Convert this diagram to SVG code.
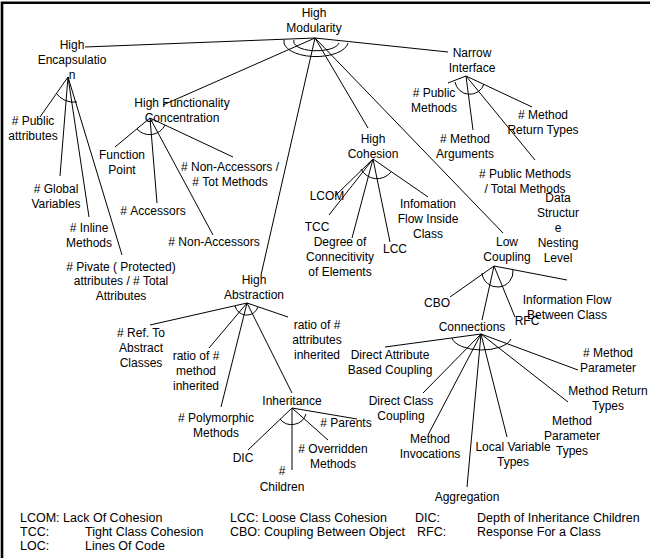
<svg xmlns="http://www.w3.org/2000/svg" width="650" height="558" viewBox="0 0 650 558">
<style>
text{font-family:"Liberation Sans",Arial,sans-serif;font-size:12px;fill:#000}
.n text{text-anchor:middle}
.c line,.c path{stroke:#000;stroke-width:1;fill:none}
.lg text{text-anchor:start;font-size:12.5px}
</style>
<rect width="650" height="558" fill="#fff"/>
<path d="M2 558 V2.7 H650" stroke="#000" stroke-width="2.6" fill="none"/>
<g id="connectors" class="c">
<line x1="315" y1="38" x2="85" y2="47"/>
<line x1="315" y1="38" x2="163" y2="105"/>
<line x1="315" y1="38" x2="261" y2="275"/>
<line x1="315" y1="38" x2="368" y2="128"/>
<line x1="315" y1="38" x2="503" y2="233"/>
<line x1="315" y1="38" x2="448" y2="52"/>
<path d="M284 40 A32 15 0 0 0 348 43"/>
<path d="M294 40 A22 9 0 0 0 339 43"/>
<line x1="68" y1="77" x2="40" y2="117"/>
<line x1="68" y1="77" x2="60" y2="176"/>
<line x1="68" y1="77" x2="89" y2="217"/>
<line x1="68" y1="77" x2="122" y2="255"/>
<path d="M56 93 A22 22 0 0 0 77 102"/>
<line x1="150" y1="118" x2="115" y2="147"/>
<line x1="150" y1="118" x2="157" y2="203"/>
<line x1="150" y1="118" x2="213" y2="235"/>
<line x1="150" y1="118" x2="233" y2="157"/>
<path d="M137 129 A17 17 0 0 0 165 125"/>
<line x1="373" y1="159" x2="335" y2="196"/>
<line x1="373" y1="159" x2="329" y2="215"/>
<line x1="373" y1="159" x2="352" y2="238"/>
<line x1="373" y1="159" x2="390" y2="242"/>
<line x1="373" y1="159" x2="428" y2="197"/>
<path d="M361 169 A18 18 0 0 0 391 172"/>
<line x1="466" y1="76" x2="448" y2="83"/>
<line x1="466" y1="76" x2="473" y2="130"/>
<line x1="466" y1="76" x2="535" y2="160"/>
<line x1="466" y1="76" x2="532" y2="107"/>
<path d="M455 82 A15 15 0 0 0 484 84"/>
<line x1="494" y1="266" x2="450" y2="297"/>
<line x1="494" y1="266" x2="482" y2="320"/>
<line x1="494" y1="266" x2="515" y2="317"/>
<line x1="494" y1="266" x2="567" y2="280"/>
<path d="M482 273 A15 15 0 0 0 513 270"/>
<line x1="247" y1="303" x2="150" y2="325"/>
<line x1="247" y1="303" x2="209" y2="348"/>
<line x1="247" y1="303" x2="221" y2="407"/>
<line x1="247" y1="303" x2="292" y2="393"/>
<line x1="247" y1="303" x2="288" y2="317"/>
<path d="M235 306 A12 12 0 0 0 258 307"/>
<line x1="292" y1="408" x2="248" y2="450"/>
<line x1="292" y1="408" x2="292" y2="470"/>
<line x1="292" y1="408" x2="328" y2="440"/>
<line x1="292" y1="408" x2="357" y2="419"/>
<path d="M280 419 A15 15 0 0 0 306 414"/>
<line x1="481" y1="334" x2="385" y2="347"/>
<line x1="481" y1="334" x2="423" y2="393"/>
<line x1="481" y1="334" x2="428" y2="435"/>
<line x1="481" y1="334" x2="467" y2="487"/>
<line x1="481" y1="334" x2="507" y2="437"/>
<line x1="481" y1="334" x2="568" y2="402"/>
<line x1="481" y1="334" x2="578" y2="370"/>
<path d="M452 338 A30 14 0 0 0 511 339"/>
</g>
<g class="n">
<g id="high-modularity"><text x="314" y="17">High</text><text x="314" y="32">Modularity</text></g>
<g id="high-encapsulation"><text x="72" y="49">High</text><text x="72" y="64">Encapsulatio</text><text x="72" y="79">n</text></g>
<g id="public-attributes"><text x="33" y="125">#&#160;Public</text><text x="33" y="140">attributes</text></g>
<g id="global-variables"><text x="56" y="193">#&#160;Global</text><text x="56" y="208">Variables</text></g>
<g id="inline-methods"><text x="89" y="232">#&#160;Inline</text><text x="89" y="247">Methods</text></g>
<g id="private-attributes"><text x="121" y="271">#&#160;Pivate ( Protected)</text><text x="121" y="285">attributes / # Total</text><text x="121" y="300">Attributes</text></g>
<g id="high-functionality"><text x="182" y="107">High Functionality</text><text x="182" y="122">Concentration</text></g>
<g id="function-point"><text x="122" y="159">Function</text><text x="122" y="174">Point</text></g>
<g id="accessors"><text x="153" y="215">#&#160;Accessors</text></g>
<g id="non-accessors"><text x="214" y="246">#&#160;Non-Accessors</text></g>
<g id="non-accessors-ratio"><text x="230" y="171">#&#160;Non-Accessors /</text><text x="230" y="186">#&#160;Tot Methods</text></g>
<g id="high-cohesion"><text x="373" y="143">High</text><text x="373" y="158">Cohesion</text></g>
<g id="lcom"><text x="327" y="200">LCOM</text></g>
<g id="tcc"><text x="317" y="231">TCC</text></g>
<g id="degree-connectivity"><text x="340" y="246">Degree of</text><text x="340" y="261">Connecitivity</text><text x="340" y="276">of Elements</text></g>
<g id="lcc"><text x="395" y="253">LCC</text></g>
<g id="info-flow-inside"><text x="428" y="208">Infomation</text><text x="428" y="223">Flow Inside</text><text x="428" y="238">Class</text></g>
<g id="narrow-interface"><text x="472" y="57">Narrow</text><text x="472" y="72">Interface</text></g>
<g id="public-methods"><text x="434" y="97">#&#160;Public</text><text x="434" y="112">Methods</text></g>
<g id="method-arguments"><text x="465" y="143">#&#160;Method</text><text x="465" y="158">Arguments</text></g>
<g id="public-methods-ratio"><text x="525" y="178">#&#160;Public Methods</text><text x="525" y="193">/ Total Methods</text></g>
<g id="method-return-types-ni"><text x="543" y="119">#&#160;Method</text><text x="543" y="134">Return Types</text></g>
<g id="data-structure"><text x="558" y="202">Data</text><text x="558" y="217">Structur</text><text x="558" y="232">e</text><text x="558" y="247">Nesting</text><text x="558" y="262">Level</text></g>
<g id="low-coupling"><text x="507" y="246">Low</text><text x="507" y="261">Coupling</text></g>
<g id="cbo"><text x="437" y="307">CBO</text></g>
<g id="connections"><text x="472" y="331">Connections</text></g>
<g id="rfc"><text x="527" y="325">RFC</text></g>
<g id="info-flow-between"><text x="567" y="304">Information Flow</text><text x="567" y="319">Between Class</text></g>
<g id="high-abstraction"><text x="254" y="284">High</text><text x="254" y="299">Abstraction</text></g>
<g id="ref-abstract"><text x="141" y="337">#&#160;Ref. To</text><text x="141" y="352">Abstract</text><text x="141" y="367">Classes</text></g>
<g id="ratio-method"><text x="196" y="360">ratio of #</text><text x="196" y="375">method</text><text x="196" y="390">inherited</text></g>
<g id="polymorphic"><text x="216" y="422">#&#160;Polymorphic</text><text x="216" y="437">Methods</text></g>
<g id="inheritance"><text x="292" y="405">Inheritance</text></g>
<g id="ratio-attributes"><text x="317" y="329">ratio of #</text><text x="317" y="344">attributes</text><text x="317" y="359">inherited</text></g>
<g id="dic"><text x="243" y="462">DIC</text></g>
<g id="children"><text x="282" y="475">#</text><text x="282" y="491">Children</text></g>
<g id="overridden"><text x="333" y="453">#&#160;Overridden</text><text x="333" y="468">Methods</text></g>
<g id="parents"><text x="346" y="427">#&#160;Parents</text></g>
<g id="direct-attribute"><text x="390" y="359">Direct Attribute</text><text x="390" y="374">Based Coupling</text></g>
<g id="direct-class"><text x="401" y="405">Direct Class</text><text x="401" y="420">Coupling</text></g>
<g id="method-invocations"><text x="430" y="443">Method</text><text x="430" y="458">Invocations</text></g>
<g id="aggregation"><text x="467" y="501">Aggregation</text></g>
<g id="local-variable"><text x="513" y="451">Local Variable</text><text x="513" y="466">Types</text></g>
<g id="method-parameter-types"><text x="572" y="425">Method</text><text x="572" y="440">Parameter</text><text x="572" y="455">Types</text></g>
<g id="method-return-types"><text x="608" y="395">Method Return</text><text x="608" y="410">Types</text></g>
<g id="method-parameter"><text x="608" y="357">#&#160;Method</text><text x="608" y="372">Parameter</text></g>
</g>
<g id="legend" class="lg">
<text x="20" y="522">LCOM: Lack Of Cohesion</text>
<text x="230" y="522">LCC: Loose Class Cohesion</text>
<text x="415" y="522">DIC:</text>
<text x="477" y="522">Depth of Inheritance Children</text>
<text x="20" y="536">TCC:</text>
<text x="85" y="536">Tight Class Cohesion</text>
<text x="230" y="536">CBO: Coupling Between Object</text>
<text x="417" y="536">RFC:</text>
<text x="477" y="536">Response For a Class</text>
<text x="20" y="550">LOC:</text>
<text x="85" y="550">Lines Of Code</text>
</g>
</svg>
